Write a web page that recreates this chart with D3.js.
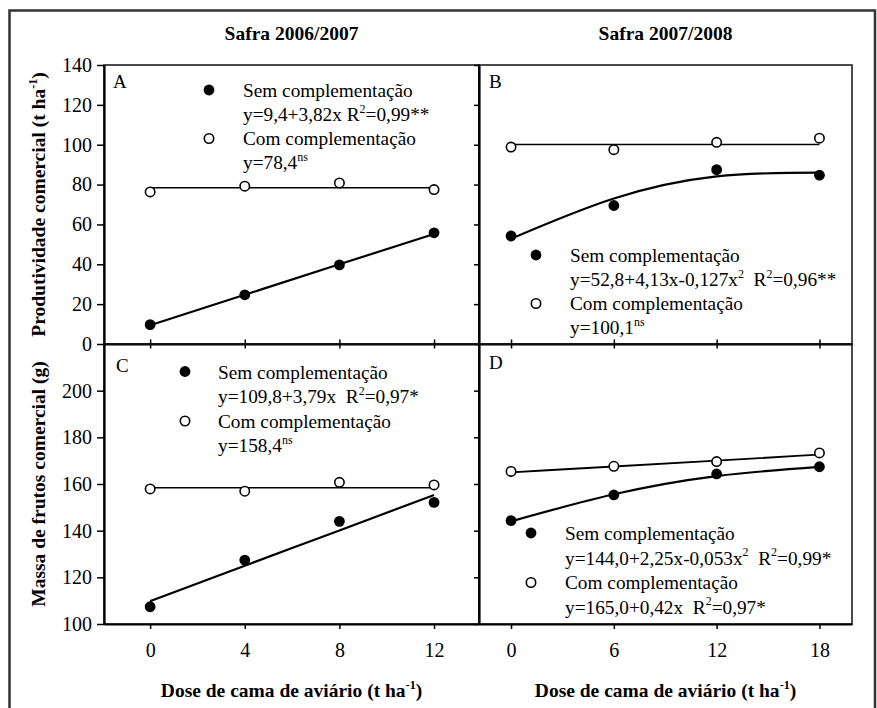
<!DOCTYPE html>
<html>
<head>
<meta charset="utf-8">
<script src="https://cdn.jsdelivr.net/npm/d3@7"></script>
<style>
  body { margin: 0; background: #fff; }
  svg { display: block; }
  text { white-space: pre; }
</style>
</head>
<body>
<div id="chart"></div>
<script>
// Data
const dosesSafra1 = [0, 4, 8, 12];
const dosesSafra2 = [0, 6, 12, 18];

// Produtividade comercial (t ha-1)
const prodSemA = [9.7, 24.7, 39.7, 55.8];
const prodComA = [76.3, 79.2, 80.8, 77.5];
const prodSemB = [54.2, 69.5, 87.5, 84.7];
const prodComB = [98.8, 97.5, 101.2, 103.3];
// Massa de frutos comercial (g)
const massaSemC = [107.4, 127.4, 144.0, 152.1];
const massaComC = [157.9, 156.9, 160.7, 159.6];
const massaSemD = [144.3, 155.3, 164.3, 167.4];
const massaComD = [165.4, 167.6, 169.6, 173.3];

// Fitted lines, read at each dose
const fitSemA = [9.4, 24.7, 40.0, 55.2];
const fitComA = [78.4, 78.4, 78.4, 78.4];
const fitSemB = [52.8, 73.0, 84.1, 86.0];
const fitComB = [100.1, 100.1, 100.1, 100.1];
const fitSemC = [109.8, 125.0, 140.1, 155.3];
const fitComC = [158.4, 158.4, 158.4, 158.4];
const fitSemD = [144.0, 155.6, 163.4, 167.3];
const fitComD = [165.0, 167.5, 170.0, 172.6];

// Tick labels
const yTicksProd = [0, 20, 40, 60, 80, 100, 120, 140];
const yTicksMassa = [100, 120, 140, 160, 180, 200];

// Texts
const safraTitles = ["Safra 2006/2007", "Safra 2007/2008"];
const yTitleProd = [{ t: "Produtividade comercial (t ha" }, { t: "-1", sup: true }, { t: ")" }];
const yTitleMassa = [{ t: "Massa de frutos comercial (g)" }];
const xTitle = [{ t: "Dose de cama de aviário (t ha" }, { t: "-1", sup: true }, { t: ")" }];
const semLabel = "Sem complementação";
const comLabel = "Com complementação";
const eqSemA = [{ t: "y=9,4+3,82x R" }, { t: "2", sup: true }, { t: "=0,99**" }];
const eqComA = [{ t: "y=78,4" }, { t: "ns", sup: true }];
const eqSemB = [{ t: "y=52,8+4,13x-0,127x" }, { t: "2", sup: true }, { t: "  R" }, { t: "2", sup: true }, { t: "=0,96**" }];
const eqComB = [{ t: "y=100,1" }, { t: "ns", sup: true }];
const eqSemC = [{ t: "y=109,8+3,79x  R" }, { t: "2", sup: true }, { t: "=0,97*" }];
const eqComC = [{ t: "y=158,4" }, { t: "ns", sup: true }];
const eqSemD = [{ t: "y=144,0+2,25x-0,053x" }, { t: "2", sup: true }, { t: "  R" }, { t: "2", sup: true }, { t: "=0,99*" }];
const eqComD = [{ t: "y=165,0+0,42x  R" }, { t: "2", sup: true }, { t: "=0,97*" }];

// Layout
const svgWidth = 877;
const svgHeight = 708;
const colLeft = 104, colMid = 479, colRight = 852;
const rowTop = 65, rowMid = 344, rowBottom = 624;
const serif = "Liberation Serif";

const panels = [
  {
    letter: "A", letterPos: [113, 88],
    box: [colLeft, rowTop, colMid, rowMid],
    xDomain: [-1.95, 13.9], yDomain: [0, 140],
    doses: dosesSafra1, yTicks: yTicksProd,
    yLabels: true, xLabels: false,
    sem: prodSemA, com: prodComA, fitSem: fitSemA, fitCom: fitComA,
    comWidth: 1.3,
    legend: { mx: 209, tx: 243, y0: 97, step: 24, sem: eqSemA, com: eqComA },
  },
  {
    letter: "B", letterPos: [489, 88],
    box: [colMid, rowTop, colRight, rowMid],
    xDomain: [-1.87, 19.9], yDomain: [0, 140],
    doses: dosesSafra2, yTicks: yTicksProd,
    yLabels: false, xLabels: false,
    sem: prodSemB, com: prodComB, fitSem: fitSemB, fitCom: fitComB,
    comWidth: 1.3,
    legend: { mx: 536, tx: 570, y0: 262, step: 24, sem: eqSemB, com: eqComB },
  },
  {
    letter: "C", letterPos: [116, 372],
    box: [colLeft, rowMid, colMid, rowBottom],
    xDomain: [-1.95, 13.9], yDomain: [100, 220],
    doses: dosesSafra1, yTicks: yTicksMassa,
    yLabels: true, xLabels: true,
    sem: massaSemC, com: massaComC, fitSem: fitSemC, fitCom: fitComC,
    comWidth: 1.5,
    legend: { mx: 185, tx: 218, y0: 378.5, step: 24.5, sem: eqSemC, com: eqComC },
  },
  {
    letter: "D", letterPos: [489, 368.5],
    box: [colMid, rowMid, colRight, rowBottom],
    xDomain: [-1.87, 19.9], yDomain: [100, 220],
    doses: dosesSafra2, yTicks: yTicksMassa,
    yLabels: false, xLabels: true,
    sem: massaSemD, com: massaComD, fitSem: fitSemD, fitCom: fitComD,
    comWidth: 1.8,
    legend: { mx: 531, tx: 565, y0: 540, step: 24.5, sem: eqSemD, com: eqComD },
  },
];

const svg = d3
  .select("#chart")
  .append("svg")
  .attr("width", svgWidth)
  .attr("height", svgHeight)
  .attr("font-family", serif);

// Outer frame
svg
  .append("rect")
  .attr("x", 9.5)
  .attr("y", 10.5)
  .attr("width", 865.5)
  .attr("height", 712)
  .attr("fill", "none")
  .attr("stroke", "#333")
  .attr("stroke-width", 2.5);

// Rich text helper (superscripts)
function richText(sel, parts, size) {
  sel.attr("font-family", serif);
  parts.forEach((p, i) => {
    const prevSup = i > 0 && parts[i - 1].sup;
    sel
      .append("tspan")
      .attr("font-size", p.sup ? size * 0.62 : size)
      .attr("dy", p.sup ? -size * 0.42 : prevSup ? size * 0.42 : 0)
      .text(p.t);
  });
  return sel;
}

panels.forEach((p) => {
  const [x0, y0, x1, y1] = p.box;
  const xScale = d3.scaleLinear().domain(p.xDomain).range([x0, x1]);
  const yScale = d3.scaleLinear().domain(p.yDomain).range([y1, y0]);
  const g = svg.append("g");

  // Box
  g.append("rect")
    .attr("x", x0)
    .attr("y", y0)
    .attr("width", x1 - x0)
    .attr("height", y1 - y0)
    .attr("fill", "none")
    .attr("stroke", "#111")
    .attr("stroke-width", 1.5);

  // Y axis
  const yAxis = g
    .append("g")
    .attr("transform", `translate(${x0},0)`)
    .call(
      d3
        .axisLeft(yScale)
        .tickValues(p.yTicks)
        .tickSize(p.yLabels ? 7 : 5)
        .tickSizeOuter(0)
        .tickPadding(5)
        .tickFormat(p.yLabels ? d3.format("d") : () => "")
    );
  yAxis.select(".domain").attr("stroke-width", 2.2).attr("stroke", "#000");
  yAxis.selectAll(".tick line").attr("stroke-width", 1.5);
  yAxis
    .selectAll(".tick text")
    .attr("font-family", serif)
    .attr("font-size", 20)
    .attr("fill", "#000");

  // X axis
  const xAxis = g
    .append("g")
    .attr("transform", `translate(0,${y1})`)
    .call(
      d3
        .axisBottom(xScale)
        .tickValues(p.doses)
        .tickSize(5)
        .tickSizeOuter(0)
        .tickPadding(14)
        .tickFormat(p.xLabels ? d3.format("d") : () => "")
    );
  xAxis.select(".domain").attr("stroke-width", 2.2).attr("stroke", "#000");
  xAxis.selectAll(".tick line").attr("stroke-width", 1.5);
  if (!p.xLabels) xAxis.selectAll(".tick line").attr("y1", -4.5).attr("y2", 4.5);
  xAxis
    .selectAll(".tick text")
    .attr("font-family", serif)
    .attr("font-size", 20)
    .attr("fill", "#000");

  // Panel letter
  g.append("text")
    .attr("x", p.letterPos[0])
    .attr("y", p.letterPos[1])
    .attr("font-family", serif)
    .attr("font-size", 19)
    .text(p.letter);

  // Fitted lines
  const line = d3
    .line()
    .x((d) => xScale(d[0]))
    .y((d) => yScale(d[1]))
    .curve(d3.curveNatural);
  g.append("path")
    .attr("d", line(d3.zip(p.doses, p.fitCom)))
    .attr("fill", "none")
    .attr("stroke", "#000")
    .attr("stroke-width", p.comWidth);
  g.append("path")
    .attr("d", line(d3.zip(p.doses, p.fitSem)))
    .attr("fill", "none")
    .attr("stroke", "#000")
    .attr("stroke-width", 2.2);

  // Points
  g.selectAll(".com")
    .data(d3.zip(p.doses, p.com))
    .join("circle")
    .attr("class", "com")
    .attr("cx", (d) => xScale(d[0]))
    .attr("cy", (d) => yScale(d[1]))
    .attr("r", 4.7)
    .attr("fill", "#fff")
    .attr("stroke", "#000")
    .attr("stroke-width", 1.6);
  g.selectAll(".sem")
    .data(d3.zip(p.doses, p.sem))
    .join("circle")
    .attr("class", "sem")
    .attr("cx", (d) => xScale(d[0]))
    .attr("cy", (d) => yScale(d[1]))
    .attr("r", 5.4)
    .attr("fill", "#000");

  // Legend
  const lg = p.legend;
  const lines = [[{ t: semLabel }], lg.sem, [{ t: comLabel }], lg.com];
  lines.forEach((parts, i) => {
    richText(
      g.append("text").attr("x", lg.tx).attr("y", lg.y0 + i * lg.step),
      parts,
      19.3
    );
  });
  g.append("circle")
    .attr("cx", lg.mx)
    .attr("cy", lg.y0 - 7)
    .attr("r", 5.4)
    .attr("fill", "#000");
  g.append("circle")
    .attr("cx", lg.mx)
    .attr("cy", lg.y0 + 2 * lg.step - 6.5)
    .attr("r", 4.7)
    .attr("fill", "#fff")
    .attr("stroke", "#000")
    .attr("stroke-width", 1.6);
});

// Column titles
safraTitles.forEach((t, i) => {
  svg
    .append("text")
    .attr("x", i === 0 ? (colLeft + colMid) / 2 : (colMid + colRight) / 2)
    .attr("y", 40)
    .attr("text-anchor", "middle")
    .attr("font-family", serif)
    .attr("font-weight", "bold")
    .attr("font-size", 19.5)
    .text(t);
});

// X axis titles
[(colLeft + colMid) / 2, (colMid + colRight) / 2].forEach((cx) => {
  richText(
    svg
      .append("text")
      .attr("x", cx)
      .attr("y", 697)
      .attr("text-anchor", "middle")
      .attr("font-weight", "bold"),
    xTitle,
    19.5
  );
});

// Y axis titles
[
  [yTitleProd, (rowTop + rowMid) / 2],
  [yTitleMassa, (rowMid + rowBottom) / 2],
].forEach(([parts, cy]) => {
  richText(
    svg
      .append("text")
      .attr("transform", `translate(45,${cy}) rotate(-90)`)
      .attr("text-anchor", "middle")
      .attr("font-weight", "bold"),
    parts,
    19.5
  );
});
</script>
</body>
</html>
